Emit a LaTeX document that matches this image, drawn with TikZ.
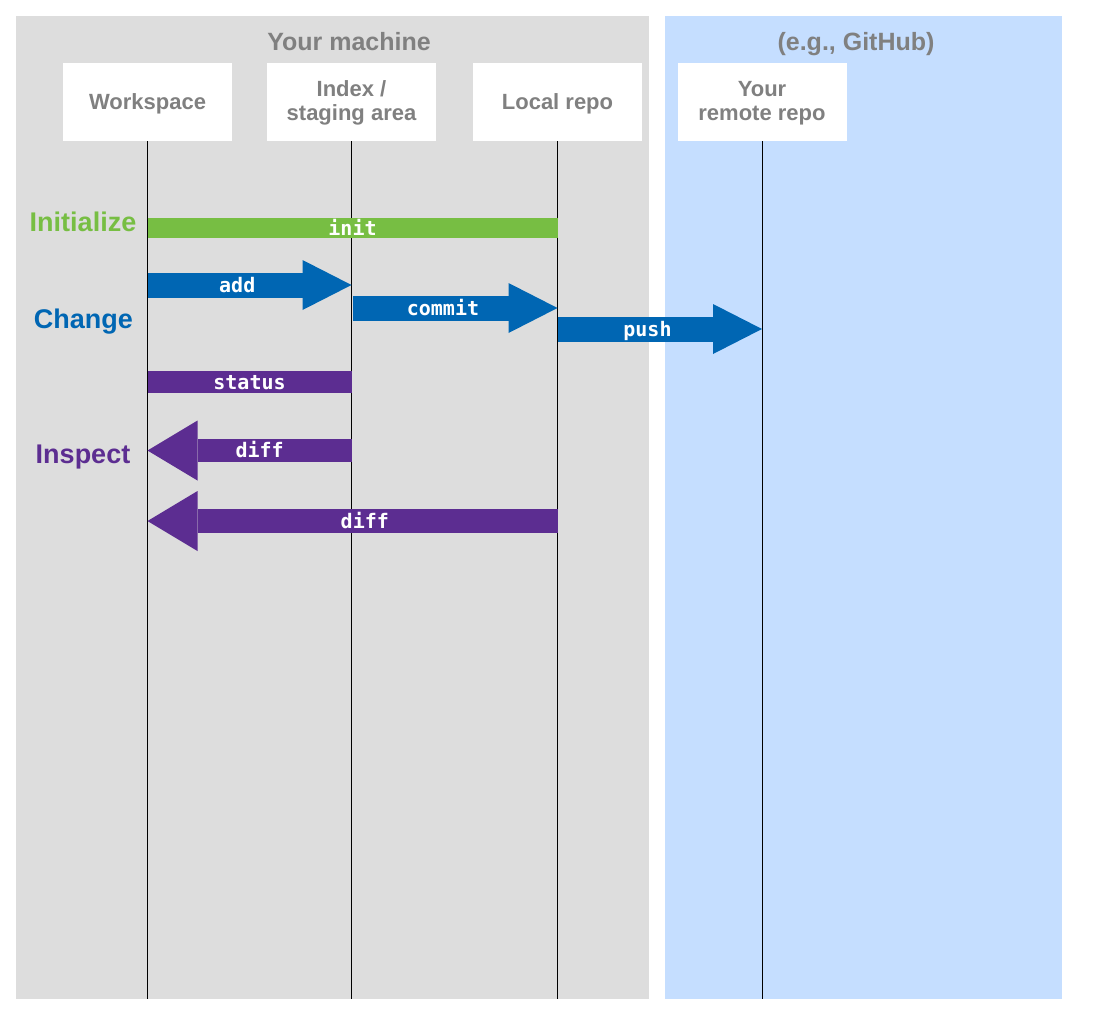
\documentclass[tikz,border=0pt]{standalone}
\usepackage{fontspec}
\setmainfont{Liberation Sans}
\setmonofont{DejaVu Sans Mono}
\usetikzlibrary{arrows.meta}
\definecolor{panelgray}{RGB}{221,221,221}
\definecolor{cloudblue}{RGB}{197,222,255}
\definecolor{labelgray}{RGB}{128,128,128}
\definecolor{initgreen}{RGB}{119,190,67}
\definecolor{changeblue}{RGB}{0,102,179}
\definecolor{inspectpurple}{RGB}{92,45,145}
\tikzset{
  repobox/.style={fill=white, minimum width=169pt, minimum height=78pt,
    inner sep=0pt, align=center, text=labelgray,
    text height=20pt, text depth=4pt,
    font=\fontsize{22}{24}\selectfont\bfseries},
  twoline/.style={text height=42pt},
  paneltitle/.style={anchor=base, text=labelgray,
    font=\fontsize{25}{30}\selectfont\bfseries},
  rowlabel/.style={anchor=base, font=\fontsize{27}{32}\selectfont\bfseries},
  lifeline/.style={black, line width=1pt},
  cmdtext/.style={text=white, inner sep=0pt, text height=15pt, text depth=1pt,
    font=\fontsize{20}{24}\selectfont\ttfamily\bfseries},
  fwdarrow/.style={line width=25pt,
    -{Triangle[length=49pt, width=50pt, line width=0pt]}},
  bwdarrow/.style={line width=23.5pt,
    -{Triangle[length=50pt, width=60pt, line width=0pt]}},
}
\begin{document}
\begin{tikzpicture}[x=1pt, y=-1pt]
  \useasboundingbox (0,0) rectangle (1102,1014);
  % panels
  \fill[panelgray] (16,16) rectangle (649,999);
  \fill[cloudblue] (665,16) rectangle (1062,999);
  \node[paneltitle] (mach) at (349,51) {Your machine};
  \node[paneltitle] (hub) at (856,51) {(e.g., GitHub)};
  % repositories
  \node[repobox] (ws) at (147.5,102) {Workspace};
  \node[repobox, twoline] (idx) at (351.5,102) {Index /\\staging area};
  \node[repobox] (loc) at (557.5,102) {Local repo};
  \node[repobox, twoline] (rem) at (762,102) {Your\\remote repo};
  \foreach \r in {ws,idx,loc,rem}
    \draw[lifeline] (\r.south) -- (\r.south |- 0,999);
  % row labels
  \node[rowlabel, text=initgreen] (initlbl) at (83,231) {Initialize};
  \node[rowlabel, text=changeblue] (chglbl) at (83.5,328) {Change};
  \node[rowlabel, text=inspectpurple] (insplbl) at (83,463) {Inspect};
  % initialize
  \draw[initgreen, line width=20pt] (ws |- 0,228) -- (loc |- 0,228)
    node[cmdtext, pos=0.5] (init) {init};
  % change
  \draw[changeblue, fwdarrow] (ws |- 0,285) -- (idx |- 0,285)
    node[cmdtext, pos=0.44] (add) {add};
  \draw[changeblue, fwdarrow] ([xshift=1.5pt]idx |- 0,308) -- (loc |- 0,308)
    node[cmdtext, pos=0.44] (commit) {commit};
  \draw[changeblue, fwdarrow] (loc |- 0,329) -- (rem |- 0,329)
    node[cmdtext, pos=0.44] (push) {push};
  % inspect
  \draw[inspectpurple, line width=22pt] (ws |- 0,382) -- (idx |- 0,382)
    node[cmdtext, pos=0.5] (status) {status};
  \draw[inspectpurple, bwdarrow] (idx |- 0,450.5) -- (ws |- 0,450.5)
    node[cmdtext, pos=0.45] (diffidx) {diff};
  \draw[inspectpurple, bwdarrow] (loc |- 0,521) -- (ws |- 0,521)
    node[cmdtext, pos=0.47] (diffloc) {diff};
\end{tikzpicture}
\end{document}
